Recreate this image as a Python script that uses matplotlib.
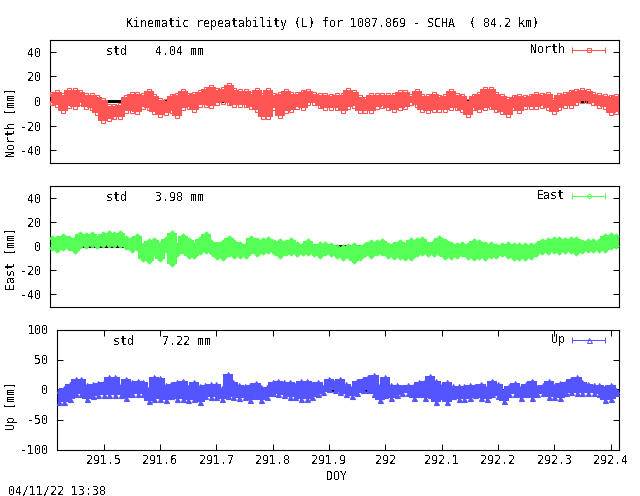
import matplotlib
matplotlib.use('Agg')
import matplotlib.pyplot as plt

plt.rcParams['font.family'] = 'DejaVu Sans Mono'
plt.rcParams['font.size'] = 8.4
plt.rcParams['text.antialiased'] = False
plt.rcParams['lines.antialiased'] = False

W, H = 640, 496

# epoch of each envelope sample
doy = [291.42, 291.43, 291.44, 291.45, 291.46, 291.47, 291.48, 291.49, 291.50, 291.51,
       291.52, 291.53, 291.54, 291.55, 291.56, 291.57, 291.58, 291.59, 291.60, 291.61,
       291.62, 291.63, 291.64, 291.65, 291.66, 291.67, 291.68, 291.69, 291.70, 291.71,
       291.72, 291.73, 291.74, 291.75, 291.76, 291.77, 291.78, 291.79, 291.80, 291.81,
       291.82, 291.83, 291.84, 291.85, 291.86, 291.87, 291.88, 291.89, 291.90, 291.91,
       291.92, 291.93, 291.94, 291.95, 291.96, 291.97, 291.98, 291.99, 292.00, 292.01,
       292.02, 292.03, 292.04, 292.05, 292.06, 292.07, 292.08, 292.09, 292.10, 292.11,
       292.12, 292.13, 292.14, 292.15, 292.16, 292.17, 292.18, 292.19, 292.20, 292.21,
       292.22, 292.23, 292.24, 292.25, 292.26, 292.27, 292.28, 292.29, 292.30, 292.31,
       292.32, 292.33, 292.34, 292.35, 292.36, 292.37, 292.38, 292.39, 292.40, 292.41]

north_hi = [6, 7, 5, 9, 9, 7, 5, 5, 3, 1,
            -4, -4, -3, 3, 6, 6, 5, 8, 4, 1,
            0, 4, 5, 8, 5, 6, 7, 10, 11, 9,
            10, 13, 9, 8, 8, 6, 9, 5, 9, 5,
            6, 8, 6, 6, 7, 8, 6, 5, 5, 4,
            5, 5, 9, 7, 3, 2, 5, 5, 5, 5,
            5, 7, 7, 4, 8, 4, 4, 6, 3, 4,
            8, 5, 4, 0, 4, 6, 10, 10, 6, 4,
            2, 3, 4, 3, 4, 6, 5, 6, 1, 5,
            6, 7, 8, 9, 8, 6, 5, 4, 3, 4]
north_lo = [-2, -3, -8, -4, -5, -2, -5, -6, -10, -16,
            -15, -13, -13, -8, -8, -9, -5, -6, -9, -11,
            -10, -8, -12, -6, -5, -7, -3, -3, -4, -2,
            -1, -2, -3, -3, -3, -5, -7, -13, -13, -6,
            -12, -8, -7, -5, -6, -2, -2, -4, -6, -6,
            -6, -8, -5, -4, -8, -8, -8, -5, -4, -6,
            -7, -6, -5, -2, -3, -7, -8, -7, -7, -7,
            -6, -6, -7, -11, -6, -7, -6, -5, -7, -9,
            -11, -6, -8, -5, -5, -5, -4, -6, -9, -6,
            -4, -4, -2, 0, 0, -2, -4, -5, -10, -9]

east_hi = [7, 7, 8, 7, 6, 10, 9, 10, 7, 10,
           11, 10, 11, 7, 6, 8, 1, 4, 5, 2,
           6, 11, 1, 8, 5, 1, 6, 10, 3, 2,
           3, 7, 3, 2, 1, 7, 5, 5, 6, 3,
           4, 3, 5, 2, 1, 4, 0, 2, 2, 1,
           -1, -1, 0, 1, -1, 1, 3, 3, 4, 1,
           2, 3, 1, 5, 5, 6, 2, 3, 7, 4,
           2, 1, 2, 1, 4, 3, 2, 2, 0, 1,
           2, 1, 1, 1, 1, 1, 4, 5, 6, 6,
           5, 6, 6, 3, 4, 4, 4, 8, 9, 8]
east_lo = [-2, -3, -2, -2, -4, 0, 0, 1, 0, 1,
           1, 1, 1, -1, -3, -2, -11, -12, -6, -11,
           -3, -15, -7, -4, -8, -8, -5, -4, -5, -9,
           -10, -7, -8, -8, -8, -4, -7, -5, -4, -5,
           -8, -6, -6, -7, -6, -6, -7, -8, -6, -7,
           -8, -10, -8, -12, -10, -7, -8, -6, -6, -8,
           -9, -9, -10, -10, -7, -6, -7, -7, -6, -9,
           -9, -8, -7, -9, -10, -9, -10, -8, -8, -7,
           -8, -10, -10, -10, -9, -7, -5, -5, -4, -5,
           -4, -4, -6, -4, -3, -3, -3, -3, -1, 0]

up_hi = [-1, 3, 10, 18, 18, 8, 10, 11, 13, 21,
         21, 8, 18, 13, 14, 13, 3, 21, 20, 8,
         10, 12, 15, 5, 12, 6, 8, 9, 10, 3,
         26, 13, 7, 6, 8, 11, 5, 5, 12, 15,
         12, 12, 8, 15, 15, 10, 12, 4, 18, 14,
         18, 10, 4, 15, 18, 21, 25, 7, 21, 8,
         8, 4, 8, 8, 12, 15, 23, 15, 8, 12,
         6, 6, 6, 8, 6, 10, 4, 14, 10, 0,
         6, 11, 4, 10, 14, 4, 7, 14, 6, 11,
         12, 17, 21, 12, 10, 7, 8, 4, 7, -1]
up_lo = [-20, -20, -16, -7, -7, -15, -10, -9, -9, -9,
         -9, -9, -14, -7, -7, -7, -19, -15, -16, -17,
         -10, -15, -16, -17, -15, -20, -11, -12, -12, -15,
         -10, -12, -14, -12, -17, -10, -18, -12, -6, -8,
         -9, -12, -12, -16, -16, -12, -8, -4, 1, -1,
         -4, -8, -10, -6, -1, -1, -8, -18, -9, -14,
         -9, -6, -6, -14, -8, -14, -9, -20, -10, -21,
         -10, -16, -15, -14, -9, -14, -15, -8, -10, -19,
         -8, -8, -14, -8, -14, -8, -6, -12, -12, -14,
         -6, -4, -6, -6, -6, -6, -8, -18, -16, -6]

xticks = [291.5, 291.6, 291.7, 291.8, 291.9, 292, 292.1, 292.2, 292.3, 292.4]
xticklabels = ['291.5', '291.6', '291.7', '291.8', '291.9', '292', '292.1', '292.2', '292.3', '292.4']
yticks_small = [-40, -20, 0, 20, 40]
yticks_up = [-100, -50, 0, 50, 100]

XMIN, XMAX = 291.416, 292.414


def make_axes(left, top, right, bottom):
    return fig.add_axes([left / W, 1 - bottom / H, (right - left) / W, (bottom - top) / H])


def draw_panel(ax, hi, lo, color, marker, ms, ylim, yticks):
    ax.axhline(0, color='black', lw=0.8, zorder=1)
    ax.vlines(doy, lo, hi, color=color, lw=6.0, zorder=2, capstyle='butt')
    for vals in (hi, lo):
        ax.plot(doy, vals, ls='none', marker=marker, ms=ms, mfc='none' if marker == 's' else color,
                mec=color, mew=0.8, zorder=3, clip_on=False)
    ax.set_xlim(XMIN, XMAX)
    ax.set_ylim(*ylim)
    ax.set_yticks(yticks)
    ax.tick_params(axis='y', direction='in', length=4, width=0.72, left=True, right=True, pad=6)
    for s in ax.spines.values():
        s.set_linewidth(0.8)


def legend_key(ax, label, color, marker, y_px, ms):
    # gnuplot style key: label, then a capped sample line with one point
    fig.text(565 / W, 1 - y_px / H, label, ha='right', va='center')
    ax.plot([572 / W, 605 / W], [1 - y_px / H, 1 - y_px / H], color=color, lw=0.72, transform=fig.transFigure,
            clip_on=False, zorder=5)
    ax.plot([572 / W, 605 / W], [1 - y_px / H, 1 - y_px / H], ls='none', color=color, transform=fig.transFigure,
            marker='|', ms=5, mew=0.72, clip_on=False, zorder=5)
    ax.plot([588.5 / W], [1 - y_px / H], color=color, marker=marker, ms=ms, mfc='none', mew=0.72,
            transform=fig.transFigure, clip_on=False, zorder=5)


fig = plt.figure(figsize=(W / 100, H / 100), dpi=100)

ax1 = make_axes(49.5, 39.5, 618.5, 162.5)
draw_panel(ax1, north_hi, north_lo, '#ff5555', 's', 3.3, (-50, 50), yticks_small)
ax1.set_xticks([])
ax1.set_yticklabels(['-40', '-20', '0', '20', '40'])
legend_key(ax1, 'North', '#ff5555', 's', 49.5, 3.3)

ax2 = make_axes(49.5, 185.5, 618.5, 306.5)
draw_panel(ax2, east_hi, east_lo, '#55ff55', 'D', 2.6, (-50, 50), yticks_small)
ax2.set_xticks([])
ax2.set_yticklabels(['-40', '-20', '0', '20', '40'])
legend_key(ax2, 'East', '#55ff55', 'D', 195.5, 2.6)

ax3 = make_axes(56.5, 329.5, 618.5, 449.5)
draw_panel(ax3, up_hi, up_lo, '#5555ff', '^', 3.6, (-100, 100), yticks_up)
ax3.set_yticklabels(['-100', '-50', '0', '50', '100'])
ax3.set_xticks(xticks)
ax3.set_xticklabels(xticklabels)
ax3.tick_params(axis='x', direction='in', length=4, width=0.72, top=True, bottom=True, pad=3.5)
legend_key(ax3, 'Up', '#5555ff', '^', 339.5, 3.6)

fig.text(333 / W, 1 - 23.5 / H, 'Kinematic repeatability (L) for 1087.869 - SCHA  ( 84.2 km)', ha='center', va='center')
fig.text(106 / W, 1 - 51.5 / H, 'std    4.04 mm', va='center')
fig.text(106 / W, 1 - 197.5 / H, 'std    3.98 mm', va='center')
fig.text(113 / W, 1 - 341.5 / H, 'std    7.22 mm', va='center')
fig.text(11 / W, 1 - 122 / H, 'North [mm]', rotation=90, ha='center', va='center')
fig.text(11 / W, 1 - 258 / H, 'East [mm]', rotation=90, ha='center', va='center')
fig.text(11 / W, 1 - 405 / H, 'Up [mm]', rotation=90, ha='center', va='center')
fig.text(337 / W, 1 - 477 / H, 'DOY', ha='center', va='center')
fig.text(8 / W, 1 - 491 / H, '04/11/22 13:38', va='center')

fig.savefig('out.png', dpi=100)
